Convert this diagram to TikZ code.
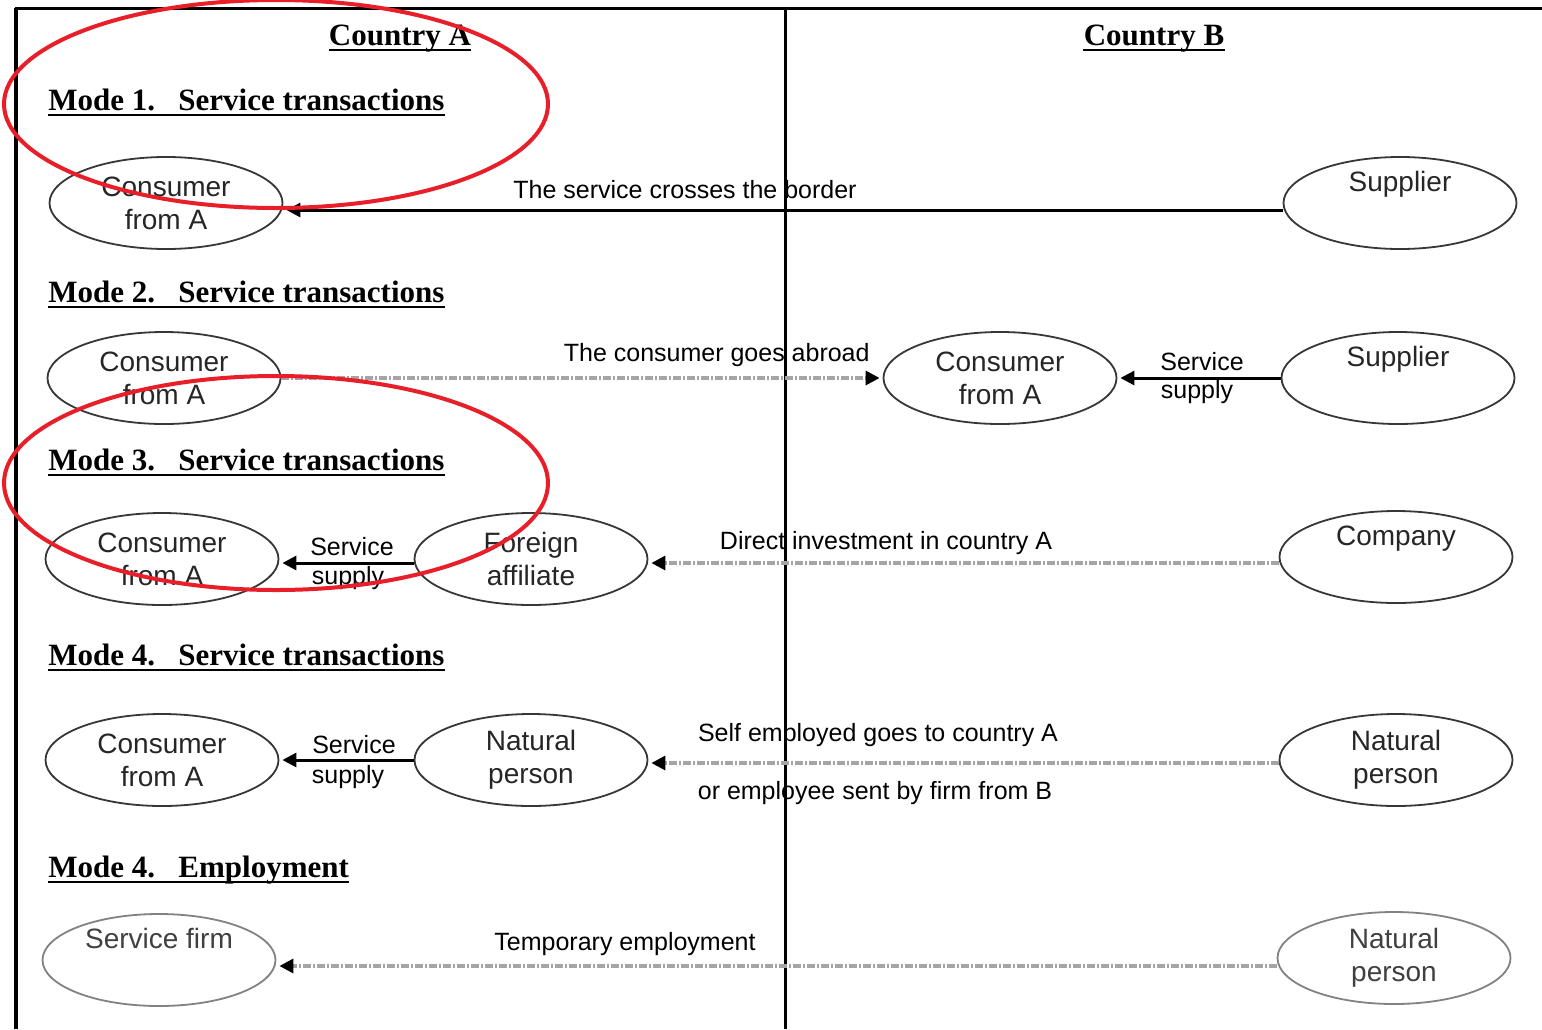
\documentclass[tikz,border=0pt]{standalone}
\usepackage{fontspec}
\setmainfont{Liberation Serif}
\newfontfamily\arialf{Liberation Sans}
\usetikzlibrary{shapes.geometric,arrows.meta,calc}
\definecolor{redmark}{RGB}{232,30,40}
\definecolor{outl}{RGB}{55,55,55}
\definecolor{lightoutl}{RGB}{130,130,130}
\definecolor{dotgray}{RGB}{165,165,165}
\begin{document}
\begin{tikzpicture}[x=0.5pt,y=-0.5pt,
  bubble/.style={ellipse,draw=outl,line width=0.9pt,minimum width=116.5pt,minimum height=46pt,
    inner sep=0pt,align=center,font=\arialf\fontsize{14}{16.5}\selectfont,text=black!85},
  faint/.style={draw=lightoutl,text=black!75},
  heading/.style={anchor=base west,inner sep=0pt,font=\bfseries\fontsize{15.5}{18}\selectfont},
  ctitle/.style={anchor=base,inner sep=0pt,font=\bfseries\fontsize{15.5}{18}\selectfont},
  uline/.style={line width=1.1pt},
  lbl/.style={inner sep=0pt,font=\arialf\fontsize{12.5}{15}\selectfont},
  solidarrow/.style={line width=1.5pt,-{Triangle[length=7pt,width=7pt]},shorten >=1.5pt},
  dotarrow/.style={line width=1.6pt,draw=dotgray,dash pattern=on 4pt off 1pt on 1pt off 1pt,
    -{Triangle[length=7pt,width=7pt,color=black]},shorten >=1.5pt},
  redring/.style={draw=redmark,line width=2pt}
]
\useasboundingbox (0,0) rectangle (1542,1029);
\fill[white] (0,0) rectangle (1542,1029);

% frame
\draw[line width=1.5pt] (15,8) -- (1542,8);
\draw[line width=2pt] (16,8) -- (16,1029);
\draw[line width=1.5pt] (785,8) -- (785,1029);

% country titles
\node[ctitle] (ca) at (400,45) {Country A};
\node[ctitle] (cb) at (1154,45) {Country B};
\draw[uline] ([yshift=-2.3pt]ca.base west) -- ([yshift=-2.3pt]ca.base east);
\draw[uline] ([yshift=-2.3pt]cb.base west) -- ([yshift=-2.3pt]cb.base east);

% mode headings
\node[heading] (h1) at (48,110) {Mode 1.\ \ \ Service transactions};
\node[heading] (h2) at (48,302) {Mode 2.\ \ \ Service transactions};
\node[heading] (h3) at (48,470) {Mode 3.\ \ \ Service transactions};
\node[heading] (h4) at (48,665) {Mode 4.\ \ \ Service transactions};
\node[heading] (h5) at (48,877) {Mode 4.\ \ \ Employment};
\foreach \h in {h1,h2,h3,h4,h5}
  \draw[uline] ([yshift=-2.6pt]\h.base west) -- ([yshift=-2.6pt]\h.base east);

% mode 1
\node[bubble] (c1) at (166,203) {Consumer\\from A};
\node[bubble] (s1) at (1400,203) {Supplier\\\strut};
\node[lbl] (l1) at (685,190) {The service crosses the border};
\draw[solidarrow] ([yshift=-3.5pt]s1.west) -- ([yshift=-3.5pt]c1.east);

% mode 2
\node[bubble] (c2) at (164,378) {Consumer\\from A};
\node[bubble] (cb2) at (1000,378) {Consumer\\from A};
\node[bubble] (s2) at (1398,378) {Supplier\\\strut};
\node[lbl,anchor=east] (l2) at (870,355) {The consumer goes abroad};
\node[lbl] (l2a) at (1202,362) {Service};
\node[lbl] (l2b) at (1197,392) {supply};
\draw[dotarrow] (c2.east) -- (cb2.west);
\draw[solidarrow] (s2.west) -- (cb2.east);

% mode 3
\node[bubble] (c3) at (162,559) {Consumer\\from A};
\node[bubble] (f3) at (531,559) {Foreign\\affiliate};
\node[bubble] (co3) at (1396,557) {Company\\\strut};
\node[lbl] (l3a) at (352,547) {Service};
\node[lbl] (l3b) at (348,578) {supply};
\node[lbl] (l3c) at (886,543) {Direct investment in country A};
\draw[solidarrow] ([yshift=-2pt]f3.west) -- ([yshift=-2pt]c3.east);
\draw[dotarrow] ([yshift=-3pt]co3.west) -- ([yshift=-2pt]f3.east);

% mode 4 service transactions
\node[bubble] (c4) at (162,760) {Consumer\\from A};
\node[bubble] (n4) at (531,760) {Natural\\person};
\node[bubble] (nb4) at (1396,760) {Natural\\person};
\node[lbl] (l4a) at (354,745) {Service};
\node[lbl] (l4b) at (348,777) {supply};
\node[lbl] (l4c) at (878,735) {Self employed goes to country A};
\node[lbl] (l4d) at (875,793) {or employee sent by firm from B};
\draw[solidarrow] (n4.west) -- (c4.east);
\draw[dotarrow] ([yshift=-1.5pt]nb4.west) -- ([yshift=-1.5pt]n4.east);

% mode 4 employment
\node[bubble,faint] (sf5) at (159,960) {Service firm\\\strut};
\node[bubble,faint] (nb5) at (1394,958) {Natural\\person};
\node[lbl] (l5) at (625,944) {Temporary employment};
\draw[dotarrow] ([yshift=-4pt]nb5.west) -- ([yshift=-3pt]sf5.east);

% red highlight rings
\draw[redring] (276,104) ellipse [x radius=272, y radius=104];
\draw[redring] (276,483) ellipse [x radius=272, y radius=107];
\end{tikzpicture}
\end{document}
